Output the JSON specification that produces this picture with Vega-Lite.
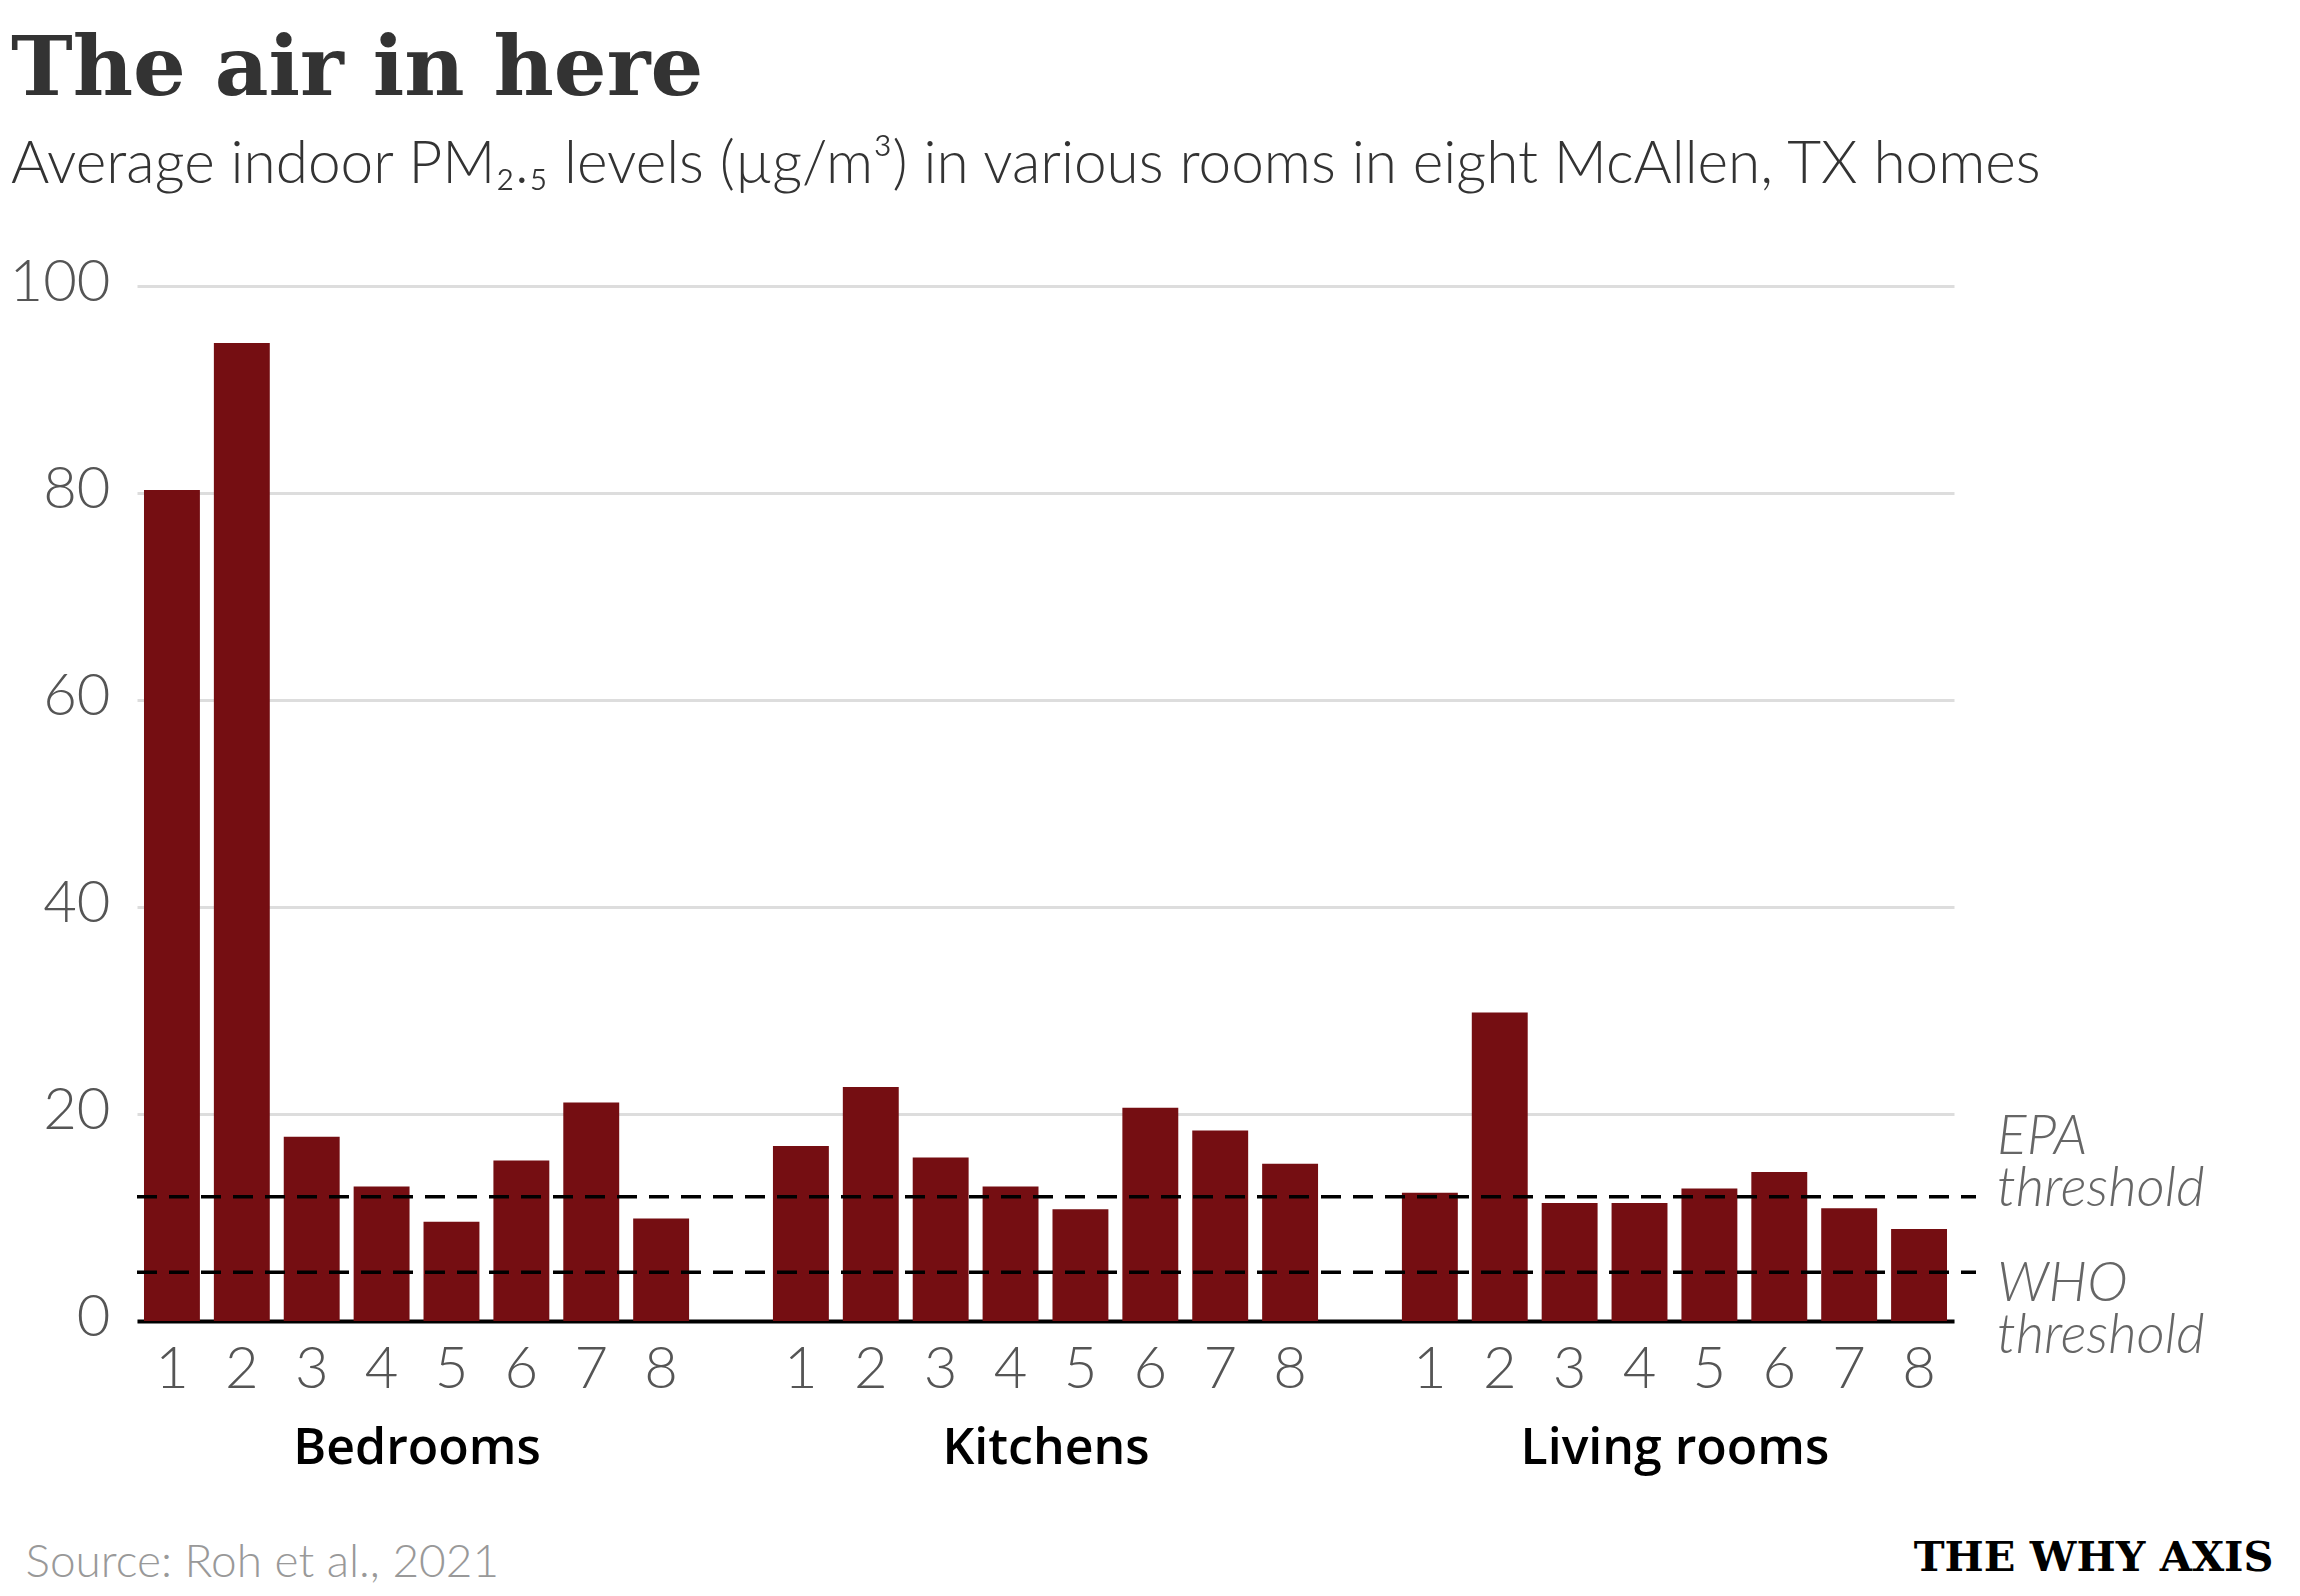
{
  "$schema": "https://vega.github.io/schema/vega-lite/v6.json",
  "width": 1817,
  "height": 1035,
  "autosize": {"type": "none"},
  "padding": {"left": 137, "top": 286, "right": 346, "bottom": 275},
  "background": "white",
  "config": {"view": {"stroke": null}},
  "title": {
    "text": "The air in here",
    "subtitle": "Average indoor PM₂.₅ levels (µg/m³) in various rooms in eight McAllen, TX homes",
    "anchor": "start",
    "frame": "group",
    "dx": -126,
    "offset": 60,
    "font": "DejaVu Serif",
    "fontSize": 83,
    "fontWeight": "bold",
    "color": "#333333",
    "subtitleFont": "Lato",
    "subtitleFontSize": 58.5,
    "subtitleFontWeight": 300,
    "subtitleColor": "#333333",
    "subtitlePadding": 25
  },
  "datasets": {
    "rooms": [
      {"room": "Bedrooms", "home": 1, "slot": "B1", "value": 80.3},
      {"room": "Bedrooms", "home": 2, "slot": "B2", "value": 94.5},
      {"room": "Bedrooms", "home": 3, "slot": "B3", "value": 17.8},
      {"room": "Bedrooms", "home": 4, "slot": "B4", "value": 13.0},
      {"room": "Bedrooms", "home": 5, "slot": "B5", "value": 9.6},
      {"room": "Bedrooms", "home": 6, "slot": "B6", "value": 15.5},
      {"room": "Bedrooms", "home": 7, "slot": "B7", "value": 21.1},
      {"room": "Bedrooms", "home": 8, "slot": "B8", "value": 9.9},
      {"room": "Kitchens", "home": 1, "slot": "K1", "value": 16.9},
      {"room": "Kitchens", "home": 2, "slot": "K2", "value": 22.6},
      {"room": "Kitchens", "home": 3, "slot": "K3", "value": 15.8},
      {"room": "Kitchens", "home": 4, "slot": "K4", "value": 13.0},
      {"room": "Kitchens", "home": 5, "slot": "K5", "value": 10.8},
      {"room": "Kitchens", "home": 6, "slot": "K6", "value": 20.6},
      {"room": "Kitchens", "home": 7, "slot": "K7", "value": 18.4},
      {"room": "Kitchens", "home": 8, "slot": "K8", "value": 15.2},
      {"room": "Living rooms", "home": 1, "slot": "L1", "value": 12.4},
      {"room": "Living rooms", "home": 2, "slot": "L2", "value": 29.8},
      {"room": "Living rooms", "home": 3, "slot": "L3", "value": 11.4},
      {"room": "Living rooms", "home": 4, "slot": "L4", "value": 11.4},
      {"room": "Living rooms", "home": 5, "slot": "L5", "value": 12.8},
      {"room": "Living rooms", "home": 6, "slot": "L6", "value": 14.4},
      {"room": "Living rooms", "home": 7, "slot": "L7", "value": 10.9},
      {"room": "Living rooms", "home": 8, "slot": "L8", "value": 8.9}
    ],
    "thresholds": [
      {"name": "EPA", "label": "EPA\nthreshold", "value": 12},
      {"name": "WHO", "label": "WHO\nthreshold", "value": 4.7}
    ],
    "groups": [
      {"group": "Bedrooms"},
      {"group": "Kitchens"},
      {"group": "Living rooms"}
    ]
  },
  "layer": [
    {
      "layer": [
        {
          "data": {"name": "rooms"},
          "mark": {"type": "bar", "color": "#750E12"},
          "encoding": {
            "x": {
              "field": "slot",
              "type": "nominal",
              "scale": {
                "domain": ["B1","B2","B3","B4","B5","B6","B7","B8","g1","K1","K2","K3","K4","K5","K6","K7","K8","g2","L1","L2","L3","L4","L5","L6","L7","L8"],
                "paddingInner": 0.2,
                "paddingOuter": 0.1
              },
              "axis": {
                "title": "THE WHY AXIS",
                "titleFont": "DejaVu Serif",
                "titleFontSize": 41.5,
                "titleFontWeight": "bold",
                "titleColor": "black",
                "titleX": 2136,
                "titleY": 249,
                "titleAlign": "right",
                "titleBaseline": "alphabetic",
                "labelExpr": "indexof(datum.value, 'g') == 0 ? '' : substring(datum.value, 1)",
                "labelAngle": 0,
                "labelFont": "Lato",
                "labelFontSize": 58,
                "labelFontWeight": 300,
                "labelColor": "#555555",
                "labelBaseline": "alphabetic",
                "labelPadding": 66,
                "domainColor": "black",
                "domainWidth": 4,
                "ticks": false,
                "grid": false
              }
            },
            "y": {
              "field": "value",
              "type": "quantitative",
              "scale": {"domain": [0, 100], "nice": false},
              "axis": {
                "title": null,
                "values": [0, 20, 40, 60, 80, 100],
                "domain": false,
                "ticks": false,
                "grid": true,
                "gridColor": "#dddddd",
                "gridWidth": 3,
                "labelFont": "Lato",
                "labelFontSize": 58,
                "labelFontWeight": 300,
                "labelColor": "#555555",
                "labelPadding": 27,
                "labelBaseline": "alphabetic",
                "labelOffset": 14
              }
            }
          }
        },
        {
          "data": {"name": "thresholds"},
          "mark": {"type": "rule", "color": "black", "strokeWidth": 3.5, "strokeDash": [20, 12]},
          "encoding": {
            "x": {"value": 0},
            "x2": {"value": {"expr": "width + 22"}},
            "y": {"field": "value", "type": "quantitative"}
          }
        },
        {
          "data": {"name": "thresholds"},
          "transform": [{"filter": "datum.name === 'EPA'"}],
          "mark": {"type": "text", "align": "left", "baseline": "alphabetic", "dx": 50, "dy": -43, "lineBreak": "\n", "lineHeight": 52, "font": "Lato", "fontSize": 55, "fontWeight": 300, "fontStyle": "italic", "color": "#666666"},
          "encoding": {
            "x": {"datum": "L8", "bandPosition": 1},
            "y": {"field": "value", "type": "quantitative"},
            "text": {"field": "label"}
          }
        },
        {
          "data": {"name": "thresholds"},
          "transform": [{"filter": "datum.name === 'WHO'"}],
          "mark": {"type": "text", "align": "left", "baseline": "alphabetic", "dx": 50, "dy": 29, "lineBreak": "\n", "lineHeight": 52, "font": "Lato", "fontSize": 55, "fontWeight": 300, "fontStyle": "italic", "color": "#666666"},
          "encoding": {
            "x": {"datum": "L8", "bandPosition": 1},
            "y": {"field": "value", "type": "quantitative"},
            "text": {"field": "label"}
          }
        }
      ]
    },
    {
      "data": {"name": "groups"},
      "mark": {"type": "point", "opacity": 0},
      "encoding": {
        "x": {
          "field": "group",
          "type": "nominal",
          "scale": {"type": "point", "domain": ["Bedrooms", "Kitchens", "Living rooms"], "padding": 0.44444},
          "axis": {
            "orient": "bottom",
            "title": "Source: Roh et al., 2021",
            "titleFont": "Lato",
            "titleFontSize": 46,
            "titleFontWeight": 300,
            "titleColor": "#999999",
            "titleX": -112,
            "titleY": 255,
            "titleAlign": "left",
            "titleBaseline": "alphabetic",
            "labelAngle": 0,
            "labelLimit": 0,
            "labelFont": "Open Sans",
            "labelFontSize": 50,
            "labelFontWeight": 600,
            "labelColor": "black",
            "labelBaseline": "alphabetic",
            "labelPadding": 142,
            "domain": false,
            "ticks": false,
            "grid": false
          }
        }
      }
    }
  ],
  "resolve": {"scale": {"x": "independent"}, "axis": {"x": "independent"}}
}
